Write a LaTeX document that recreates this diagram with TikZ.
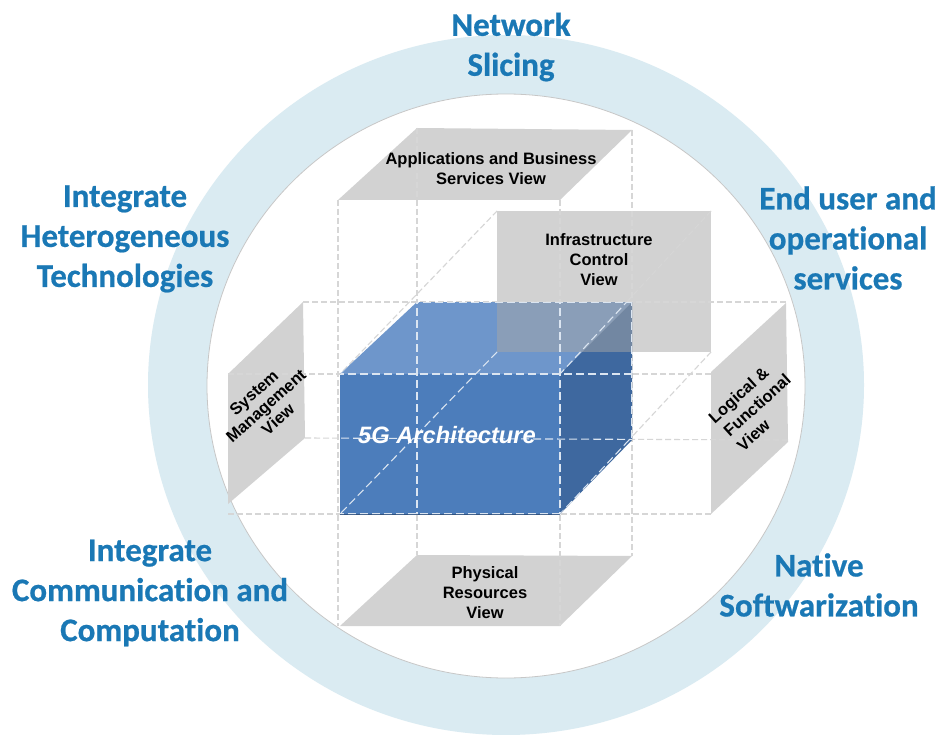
\documentclass[tikz,border=0pt]{standalone}
\usepackage{fontspec}
\setmainfont{Liberation Sans}
\newfontfamily\ringfont[Ligatures=NoCommon,BoldFeatures={FakeBold=0.6}]{Carlito}
\definecolor{ringblue}{HTML}{DAEBF2}
\definecolor{ringtext}{HTML}{1A78B5}
\definecolor{planegray}{HTML}{D2D2D2}
\definecolor{planeover}{HTML}{A6A6A6}
\definecolor{cubefront}{HTML}{4C7DBB}
\definecolor{cubetop}{HTML}{6E96CB}
\definecolor{cuberight}{HTML}{3E689F}
\definecolor{guide}{HTML}{D6D6D6}
\tikzset{
  plane/.style={fill=planegray},
  guideline/.style={draw=guide,line width=1.1pt,dash pattern=on 6pt off 3pt},
  cubeline/.style={draw=white!80!cubefront,line width=1.1pt,dash pattern=on 8pt off 4pt},
  cubeedge/.style={draw=cuberight!80!black,line width=1pt},
  viewlabel/.style={font=\bfseries\fontsize{16.5}{20}\selectfont,align=center,text=black,inner sep=0pt},
  sidelabel/.style={font=\bfseries\fontsize{16.5}{18}\selectfont,align=center,text=black,inner sep=0pt,rotate=42},
  ringlabel/.style={font=\ringfont\bfseries\fontsize{33}{40}\selectfont,align=center,text=ringtext,inner sep=0pt},
}
\begin{document}
\begin{tikzpicture}[x=1pt,y=-1pt]
\useasboundingbox (0,0) rectangle (939,735);
\fill[white] (0,0) rectangle (939,735);
% ring
\fill[ringblue] (506,385) ellipse [x radius=358,y radius=350];
\fill[white] (506,386) ellipse [x radius=299,y radius=292];
\draw[black!22,line width=.8pt] (506,386) ellipse [x radius=299,y radius=292];
% cube corner coordinates
\coordinate (fa) at (340,374); \coordinate (fb) at (560,374);
\coordinate (fc) at (560,514); \coordinate (fd) at (340,514);
\coordinate (ba) at (417,302); \coordinate (bb) at (632,302);
\coordinate (bc) at (632,440); \coordinate (bd) at (417,440);
\coordinate (pa) at (497,211); \coordinate (pb) at (711,211);
\coordinate (pc) at (711,352); \coordinate (pd) at (497,352);
% view planes
\fill[plane] (338,200) -- (417,128) -- (632,130) -- (560,200) -- cycle;
\fill[plane] (340,626) -- (417,555) -- (632,556) -- (560,626) -- cycle;
\fill[plane] (228,374) -- (303,302) -- (305,438) -- (228,504) -- cycle;
\fill[plane] (711,372) -- (786,303) -- (788,442) -- (711,514) -- cycle;
\fill[planegray] (pa) rectangle (pc);
\newcommand{\guidepaths}[1]{%
  \draw[#1] (338,200) -- (338,626);
  \draw[#1] (417,128) -- (417,555);
  \draw[#1] (560,200) -- (560,626);
  \draw[#1] (632,130) -- (632,556);
  \draw[#1] (228,374) -- (711,374);
  \draw[#1] (303,302) -- (787,302);
  \draw[#1] (228,514) -- (711,514);
  \draw[#1] (305,438) -- (788,440);
  \draw[#1] (pa) -- (fa);
  \draw[#1] (pb) -- (fb);
  \draw[#1] (pc) -- (fc);
  \draw[#1] (pd) -- (fd);
}
\guidepaths{guideline}
% cube
\fill[cubefront] (fa) -- (fb) -- (fc) -- (fd) -- cycle;
\fill[cubetop] (fa) -- (ba) -- (bb) -- (fb) -- cycle;
\fill[cuberight] (fb) -- (bb) -- (bc) -- (fc) -- cycle;
\draw[cubeedge] (fd) -- (fc);
\begin{scope}
  \clip (fa) -- (ba) -- (bb) -- (bc) -- (fc) -- (fd) -- cycle;
  \fill[planeover,opacity=.5] (pa) rectangle (pc);
  \guidepaths{cubeline}
\end{scope}
% labels
\node[viewlabel] (apps) at (491,169) {Applications and Business\\Services View};
\node[viewlabel] (infra) at (599,260) {Infrastructure\\Control\\View};
\node[viewlabel] (phys) at (485,593) {Physical\\Resources\\View};
\node[sidelabel] (sys) at (266,406) {System\\Management\\View};
\node[sidelabel,font=\bfseries\fontsize{16.5}{20}\selectfont] (logic) at (757,405) {Logical \&\hspace*{14pt}\\Functional\\View\hspace*{46pt}};
\node[font=\bfseries\itshape\fontsize{23.7}{26}\selectfont,text=white,inner sep=0pt] (arch) at (447,435) {5G Architecture};
\node[ringlabel] (slice) at (511,47) {Network\\Slicing};
\node[ringlabel] (hetero) at (125,239) {Integrate\\Heterogeneous\\Technologies};
\node[ringlabel] (endu) at (848,238) {End user and\\operational\\services};
\node[ringlabel] (comm) at (150,593) {Integrate\\Communication and\\Computation};
\node[ringlabel] (soft) at (819,585) {Native\\Softwarization};
\end{tikzpicture}
\end{document}
